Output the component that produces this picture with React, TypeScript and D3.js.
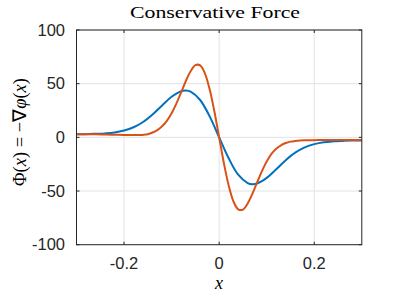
import React from "react";
import * as d3 from "d3";

const xsBlue = [-0.3, -0.28, -0.26, -0.24, -0.22, -0.2, -0.18, -0.16, -0.14, -0.12, -0.1, -0.08, -0.07, -0.06, -0.04, -0.02, 0, 0.02, 0.04, 0.06, 0.07, 0.08, 0.1, 0.12, 0.14, 0.16, 0.18, 0.2, 0.22, 0.24, 0.26, 0.28, 0.3];
const blueVals = [3.0, 3.0, 3.3, 3.7, 4.5, 6.3, 9.4, 14.3, 21.3, 29.7, 37.8, 43.0, 43.7, 42.6, 34.8, 19.5, 0, -19.5, -34.8, -42.6, -43.7, -43.0, -37.8, -29.7, -21.3, -14.3, -9.4, -6.3, -4.5, -3.7, -3.3, -3.0, -3.0];

const xsOrange = [-0.3, -0.28, -0.26, -0.24, -0.22, -0.2, -0.18, -0.17, -0.16, -0.15, -0.14, -0.13, -0.12, -0.11, -0.1, -0.09, -0.08, -0.07, -0.06, -0.05, -0.04, -0.03, -0.02, -0.01, 0, 0.01, 0.02, 0.03, 0.04, 0.05, 0.06, 0.07, 0.08, 0.09, 0.1, 0.11, 0.12, 0.13, 0.14, 0.15, 0.16, 0.17, 0.18, 0.2, 0.22, 0.24, 0.26, 0.28, 0.3];
const orangeVals = [3.0, 2.9, 2.8, 2.6, 2.4, 2.2, 2.1, 2.1, 2.3, 2.9, 4.5, 6.8, 10.3, 15.4, 22.5, 31.4, 41.8, 52.5, 61.6, 67.3, 67.0, 59.6, 44.8, 24.1, 0, -24.1, -44.8, -59.6, -67.0, -67.3, -61.6, -52.5, -41.8, -31.4, -22.5, -15.4, -10.6, -7.4, -5.3, -4.0, -3.3, -2.9, -2.7, -2.6, -2.5, -2.5, -2.5, -2.5, -2.5];

const xTicks = [-0.2, 0, 0.2];
const xTickLabels = ["-0.2", "0", "0.2"];
const yTicks = [-100, -50, 0, 50, 100];
const yTickLabels = ["-100", "-50", "0", "50", "100"];

const titleText = "Conservative Force";

export default function App() {
  const W = 399, H = 299;
  const L = 76.5, R = 361.8, T = 30, B = 244.7;
  const x = d3.scaleLinear().domain([-0.3, 0.3]).range([L, R]);
  const y = d3.scaleLinear().domain([-100, 100]).range([B, T]);
  const line = d3.line<[number, number]>().x(d => x(d[0])).y(d => y(d[1])).curve(d3.curveCatmullRom.alpha(0.5));
  const blue = line(xsBlue.map((v, i) => [v, blueVals[i]]) as [number, number][]) || "";
  const orange = line(xsOrange.map((v, i) => [v, orangeVals[i]]) as [number, number][]) || "";
  const axisColor = "#262626";
  const gridColor = "#e3e3e3";
  const tick = 3;
  const sans = "'Liberation Sans', Arial, sans-serif";
  const serif = "'Liberation Serif', 'Times New Roman', serif";
  return (
    <svg width={W} height={H} style={{ position: "absolute", left: 0, top: 0, background: "#fff" }}>
      <rect x={0} y={0} width={W} height={H} fill="#fff" />
      <clipPath id="plot"><rect x={L} y={T} width={R - L} height={B - T} /></clipPath>
      {xTicks.map(t => (
        <line key={"gx" + t} x1={x(t)} x2={x(t)} y1={T} y2={B} stroke={gridColor} strokeWidth={1} />
      ))}
      {yTicks.map(t => (
        <line key={"gy" + t} x1={L} x2={R} y1={y(t)} y2={y(t)} stroke={gridColor} strokeWidth={1} />
      ))}
      <g clipPath="url(#plot)" fill="none" strokeWidth={2} strokeLinejoin="round">
        <path d={blue} stroke="#0072BD" />
        <path d={orange} stroke="#D95319" />
      </g>
      <rect x={L} y={T} width={R - L} height={B - T} fill="none" stroke={axisColor} strokeWidth={1} />
      {xTicks.map(t => (
        <g key={"tx" + t}>
          <line x1={x(t)} x2={x(t)} y1={B} y2={B - tick} stroke={axisColor} />
          <line x1={x(t)} x2={x(t)} y1={T} y2={T + tick} stroke={axisColor} />
        </g>
      ))}
      {yTicks.map(t => (
        <g key={"ty" + t}>
          <line x1={L} x2={L + tick} y1={y(t)} y2={y(t)} stroke={axisColor} />
          <line x1={R} x2={R - tick} y1={y(t)} y2={y(t)} stroke={axisColor} />
        </g>
      ))}
      {xTicks.map((t, i) => (
        <text key={"lx" + t} x={x(t)} y={269} textAnchor="middle" fontFamily={sans} fontSize={16.5} fill={axisColor}>{xTickLabels[i]}</text>
      ))}
      {yTicks.map((t, i) => (
        <text key={"ly" + t} x={65} y={y(t)} dy="0.35em" textAnchor="end" fontFamily={sans} fontSize={16.5} fill={axisColor}>{yTickLabels[i]}</text>
      ))}
      <text x={215} y={18} textAnchor="middle" fontFamily={serif} fontSize={16} textLength={170} lengthAdjust="spacingAndGlyphs" fill="#000">{titleText}</text>
      <text x={219} y={289} textAnchor="middle" fontFamily={serif} fontStyle="italic" fontSize={18} fill="#000">x</text>
      <text transform="translate(26,132) rotate(-90)" textAnchor="middle" fontFamily={serif} fontSize={18.5} fill="#000">
        <tspan>Φ(</tspan><tspan fontStyle="italic">x</tspan><tspan>) = −∇</tspan><tspan fontStyle="italic">φ</tspan><tspan>(</tspan><tspan fontStyle="italic">x</tspan><tspan>)</tspan>
      </text>
    </svg>
  );
}
